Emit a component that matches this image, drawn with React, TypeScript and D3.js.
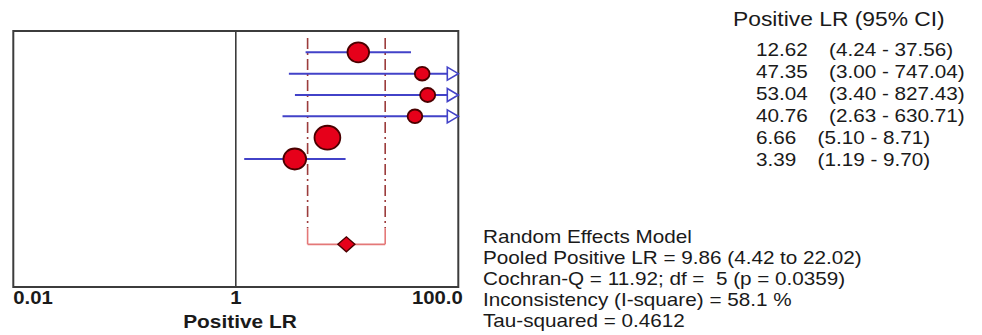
import React from "react";
import * as d3 from "d3";

const studyLR = [12.62, 47.35, 53.04, 40.76, 6.66, 3.39];
const studyLower = [4.24, 3.0, 3.4, 2.63, 5.1, 1.19];
const studyUpper = [37.56, 747.04, 827.43, 630.71, 8.71, 9.7];
const studyWeights = [20.2, 9.4, 9.9, 9.4, 28.8, 22.3];
const pooledLR = 9.86;
const pooledLower = 4.42;
const pooledUpper = 22.02;
const tickValues = [0.01, 1, 100];
const tickLabels = ["0.01", "1", "100.0"];
const axisTitle = "Positive LR";
const columnHeader = "Positive LR (95% CI)";
const valueLabels = ["12.62", "47.35", "53.04", "40.76", "6.66", "3.39"];
const ciLabels = [
  "(4.24 - 37.56)",
  "(3.00 - 747.04)",
  "(3.40 - 827.43)",
  "(2.63 - 630.71)",
  "(5.10 - 8.71)",
  "(1.19 - 9.70)",
];
const summaryLines = [
  "Random Effects Model",
  "Pooled Positive LR = 9.86 (4.42 to 22.02)",
  "Cochran-Q = 11.92; df =  5 (p = 0.0359)",
  "Inconsistency (I-square) = 58.1 %",
  "Tau-squared = 0.4612",
];

const W = 982;
const H = 335;
const left = 13.3;
const right = 458.3;
const top = 31;
const bottom = 287;
const FONT = "'Liberation Sans', Arial, sans-serif";
const SX = 1.15;

const BLUE = "#4242c8";
const RED = "#e6001a";
const DARKRED = "#4a0000";
const DASH = "#9c3c3c";
const BRACKET = "#e47878";
const FRAME = "#3c3c3c";

function T({ x, y, anchor = "start", size = 18, weight = "normal", sx = SX, children }: any) {
  return (
    <text
      transform={`translate(${x},${y}) scale(${sx},1)`}
      textAnchor={anchor}
      fontFamily={FONT}
      fontSize={size}
      fontWeight={weight}
      fill="#1a1a1a"
      style={{ whiteSpace: "pre" }}
    >
      {children}
    </text>
  );
}

export default function App() {
  const x = d3.scaleLog().domain([0.01, 100]).range([left, right]);
  const y = d3.scaleLinear().domain([0, 12]).range([top, bottom]);
  const rScale = d3.scaleSqrt().domain([0, 20.2]).range([0, 10.3]);
  const rowY = (i: number) => y(i + 1);
  const pooledY = y(10);
  const xMax = x(100);
  const arrowLen = 11;
  const arrowH = 6.5;

  const textRow0 = 56;
  const textRowStep = 21.9;

  return (
    <svg width={W} height={H} style={{ position: "absolute", left: 0, top: 0, background: "#fff" }}>
      <rect x={0} y={0} width={W} height={H} fill="#fff" />
      {/* frame */}
      <rect x={left} y={top} width={right - left} height={bottom - top} fill="none" stroke={FRAME} strokeWidth={2} />
      {/* line of no effect */}
      <line x1={x(1)} x2={x(1)} y1={top} y2={bottom} stroke={FRAME} strokeWidth={1.6} />

      {/* pooled CI dash-dot lines */}
      {[pooledLower, pooledUpper].map((v, i) => (
        <g key={"pd" + i}>
          <line x1={x(v)} x2={x(v)} y1={top + 7} y2={pooledY - 16} stroke={DASH} strokeWidth={1.6} strokeDasharray="11,4,2,4" />
          <line x1={x(v)} x2={x(v)} y1={pooledY - 16} y2={pooledY} stroke={BRACKET} strokeWidth={1.6} />
        </g>
      ))}
      <line x1={x(pooledLower)} x2={x(pooledUpper)} y1={pooledY} y2={pooledY} stroke={BRACKET} strokeWidth={1.6} />

      {/* study CIs */}
      {studyLR.map((v, i) => {
        const cy = rowY(i);
        const clipped = studyUpper[i] > 100;
        const x2 = clipped ? xMax - arrowLen : x(studyUpper[i]);
        return (
          <g key={"s" + i}>
            <line x1={x(studyLower[i])} x2={x2} y1={cy} y2={cy} stroke={BLUE} strokeWidth={2} />
            {clipped && (
              <path
                d={`M${xMax - arrowLen},${cy - arrowH}L${xMax},${cy}L${xMax - arrowLen},${cy + arrowH}Z`}
                fill="#fff"
                stroke={BLUE}
                strokeWidth={1.6}
              />
            )}
          </g>
        );
      })}
      {studyLR.map((v, i) => {
        const r = rScale(studyWeights[i]);
        return (
          <ellipse
            key={"c" + i}
            cx={x(v)}
            cy={rowY(i)}
            rx={r * 1.05}
            ry={r * 0.97}
            fill={RED}
            stroke={DARKRED}
            strokeWidth={1.8}
          />
        );
      })}

      {/* pooled diamond */}
      <path
        d={`M${x(pooledLR) - 8.5},${pooledY}L${x(pooledLR)},${pooledY - 7.5}L${x(pooledLR) + 8.5},${pooledY}L${x(pooledLR)},${pooledY + 7.5}Z`}
        fill={RED}
        stroke={DARKRED}
        strokeWidth={1.4}
      />

      {/* ticks */}
      {tickValues.map((v, i) => (
        <T
          key={"t" + i}
          x={i === 0 ? x(v) : i === tickValues.length - 1 ? x(v) + 4.5 : x(v)}
          y={304}
          anchor={i === 0 ? "start" : i === tickValues.length - 1 ? "end" : "middle"}
          weight="bold"
          sx={1.13}
        >
          {tickLabels[i]}
        </T>
      ))}
      <T x={240} y={328} anchor="middle" weight="bold" size={18.5} sx={1.13}>
        {axisTitle}
      </T>

      {/* column header and per-study text */}
      <T x={733} y={26} size={19.5} sx={1.17}>{columnHeader}</T>
      {valueLabels.map((s, i) => (
        <T key={"v" + i} x={756} y={textRow0 + i * textRowStep}>
          {s}
          <tspan dx={18.5}>{ciLabels[i]}</tspan>
        </T>
      ))}

      {/* summary */}
      {summaryLines.map((s, i) => (
        <T key={"m" + i} x={483} y={242.5 + i * 21}>
          {s}
        </T>
      ))}
    </svg>
  );
}
